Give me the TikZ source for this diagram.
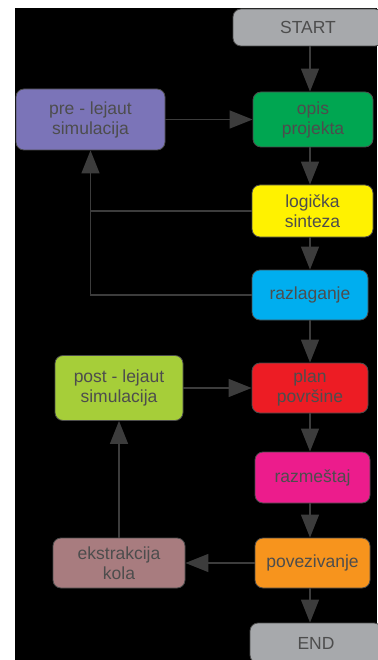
\documentclass[tikz,border=0pt]{standalone}
\usepackage{fontspec}
\setmainfont{Liberation Sans}
\usetikzlibrary{arrows.meta}
\definecolor{bggray}{HTML}{A7A9AC}
\definecolor{cgreen}{HTML}{00A651}
\definecolor{cpurple}{HTML}{7B74B8}
\definecolor{cyellow}{HTML}{FFF200}
\definecolor{cblue}{HTML}{00AEEF}
\definecolor{cred}{HTML}{ED1C24}
\definecolor{clime}{HTML}{A6CE39}
\definecolor{cmagenta}{HTML}{EC1C8C}
\definecolor{corange}{HTML}{F7941D}
\definecolor{cmauve}{HTML}{A87C7F}
\definecolor{txt}{HTML}{4D4D4D}
\definecolor{lin}{HTML}{3C3C3C}
\tikzset{
  box/.style={draw=black!70, line width=0.8pt, rounded corners=8pt, align=center,
    text=txt, font=\fontsize{17.5}{20}\selectfont, inner sep=0pt},
  arr/.style={draw=lin, line width=1.5pt, -{Triangle[width=18pt,length=23pt]}},
  ln/.style={draw=lin, line width=1.5pt}
}
\begin{document}
\begin{tikzpicture}[x=1pt,y=-1pt]
\useasboundingbox (0,0) rectangle (377,660);
\fill[white] (0,0) rectangle (377,660);
\fill[black] (15,8) rectangle (377,660);
\coordinate (axis) at (310,0);
\node[box, fill=bggray, minimum width=150pt, minimum height=37pt] (start) at (308,27.5) {START};
\node[box, fill=cgreen, minimum width=120pt, minimum height=55pt] (opis) at (313,119.5) {opis\\projekta};
\node[box, fill=cpurple, minimum width=149pt, minimum height=61pt] (pre) at (90.5,119.5) {pre - lejaut\\simulacija};
\node[box, fill=cyellow, minimum width=121pt, minimum height=52pt] (log) at (312.5,211) {logička\\sinteza};
\node[box, fill=cblue, minimum width=116pt, minimum height=50pt] (razl) at (310,295) {razlaganje};
\node[box, fill=cred, minimum width=116pt, minimum height=50pt] (plan) at (310,388) {plan\\površine};
\node[box, fill=clime, minimum width=128pt, minimum height=65pt] (post) at (119,388) {post - lejaut\\simulacija};
\node[box, fill=cmagenta, minimum width=115pt, minimum height=51pt] (razm) at (312.5,477.5) {razmeštaj};
\node[box, fill=corange, minimum width=115pt, minimum height=50pt] (pov) at (312.5,563) {povezivanje};
\node[box, fill=cmauve, minimum width=132pt, minimum height=50pt] (ekst) at (119,563) {ekstrakcija\\kola};
\node[box, fill=bggray, minimum width=132pt, minimum height=40pt] (end) at (316,643) {END};
% main flow
\draw[arr] (start.south -| axis) -- (opis.north -| axis);
\draw[arr] (opis.south -| axis) -- (log.north -| axis);
\draw[arr] (log.south -| axis) -- (razl.north -| axis);
\draw[arr] (razl.south -| axis) -- (plan.north -| axis);
\draw[arr] (plan.south -| axis) -- (razm.north -| axis);
\draw[arr] (razm.south -| axis) -- (pov.north -| axis);
\draw[arr] (pov.south -| axis) -- (end.north -| axis);
% side loops
\draw[arr] (pre.east) -- (opis.west);
\draw[arr] (razl.west) -| (pre.south);
\draw[ln] (log.west) -- (log.west -| pre.south);
\draw[arr] (post.east) -- (plan.west);
\draw[arr] (pov.west) -- (ekst.east);
\draw[arr] (ekst.north) -- (post.south);
\end{tikzpicture}
\end{document}
